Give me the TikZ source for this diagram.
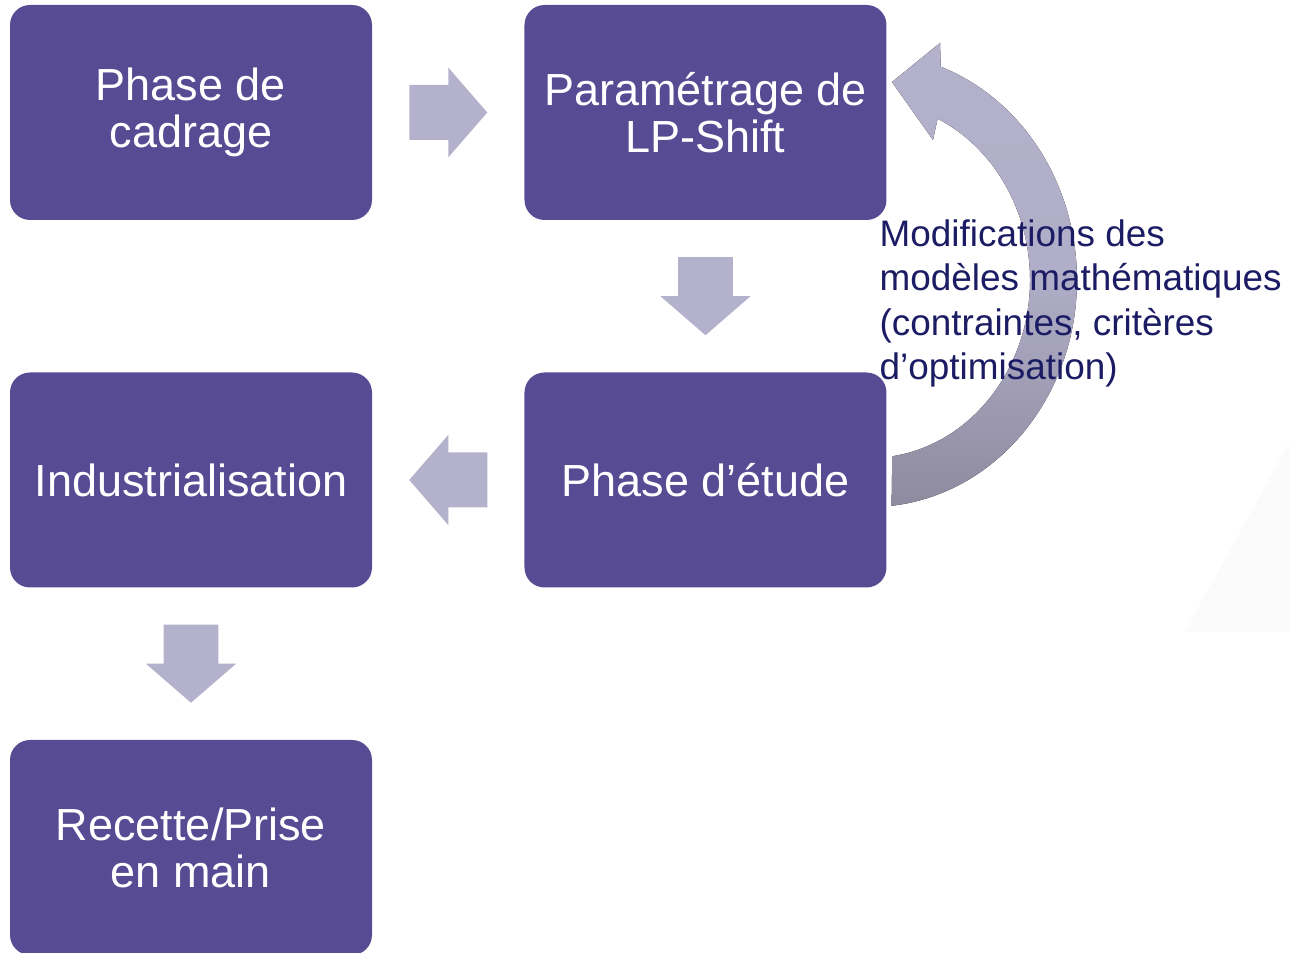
\documentclass[tikz,border=0pt]{standalone}
\usepackage{fontspec}
\setmainfont{Liberation Sans}
\usetikzlibrary{calc}
\definecolor{boxviolet}{HTML}{574C94}
\definecolor{arrowgrey}{HTML}{B3B1CB}
\definecolor{arcdark}{HTML}{8E8BA0}
\definecolor{labelnavy}{HTML}{1C1C64}
\begin{document}
\begin{tikzpicture}[
    phase/.style={rectangle, rounded corners=0.2cm, fill=boxviolet,
      minimum width=3.62cm, minimum height=2.15cm, inner sep=0pt,
      text=white, align=center,
      font=\fontsize{12.8}{13.4}\selectfont},
    blockarrow/.style={fill=arrowgrey}
  ]
  \useasboundingbox (0,0) rectangle (12.89,-9.53);
  % faint triangle on the right
  \fill[black!1.5] (12.89,-4.43) -- (11.85,-6.32) -- (12.89,-6.32) -- cycle;
  \node[phase] (cadrage) at (1.91,-1.125) {Phase de\\cadrage};
  \node[phase] (param) at (7.055,-1.125) {Paramétrage de\\LP-Shift};
  \node[phase] (etude) at (7.055,-4.80) {Phase d’étude};
  \node[phase] (indus) at (1.91,-4.80) {Industrialisation};
  \node[phase] (recette) at (1.91,-8.475) {Recette/Prise\\en main};
  \coordinate (m1) at ($(cadrage.east)!0.5!(param.west)$);
  \coordinate (m2) at ($(param.south)!0.5!(etude.north)$);
  \coordinate (m3) at ($(etude.west)!0.5!(indus.east)$);
  \coordinate (m4) at ($(indus.south)!0.5!(recette.north)$);
  \foreach \m/\r in {m1/0, m2/-90, m3/180, m4/-90}
  {
    \fill[blockarrow, shift={(\m)}, rotate=\r]
      (-0.39,0.275) -- (0,0.275) -- (0,0.45) -- (0.39,0)
      -- (0,-0.45) -- (0,-0.275) -- (-0.39,-0.275) -- cycle;
  }
  % curved arrow back from the study phase
  \fill[top color=arrowgrey, bottom color=arcdark, middle color=arrowgrey!92!arcdark]
    (8.916,-5.058) arc[start angle=-84, end angle=70, x radius=2.07, y radius=2.27]
    -- (9.40,-0.43) -- (8.92,-0.82) -- (9.33,-1.40) -- (9.376,-1.187)
    arc[start angle=65, end angle=-82, x radius=1.60, y radius=1.78] -- cycle;
  \node[anchor=north west, inner sep=0pt, align=left, text=labelnavy,
    font=\fontsize{10.5}{12.6}\selectfont] (modif) at (8.79,-2.19)
    {Modifications des\\modèles mathématiques\\(contraintes, critères\\d’optimisation)};
\end{tikzpicture}
\end{document}
